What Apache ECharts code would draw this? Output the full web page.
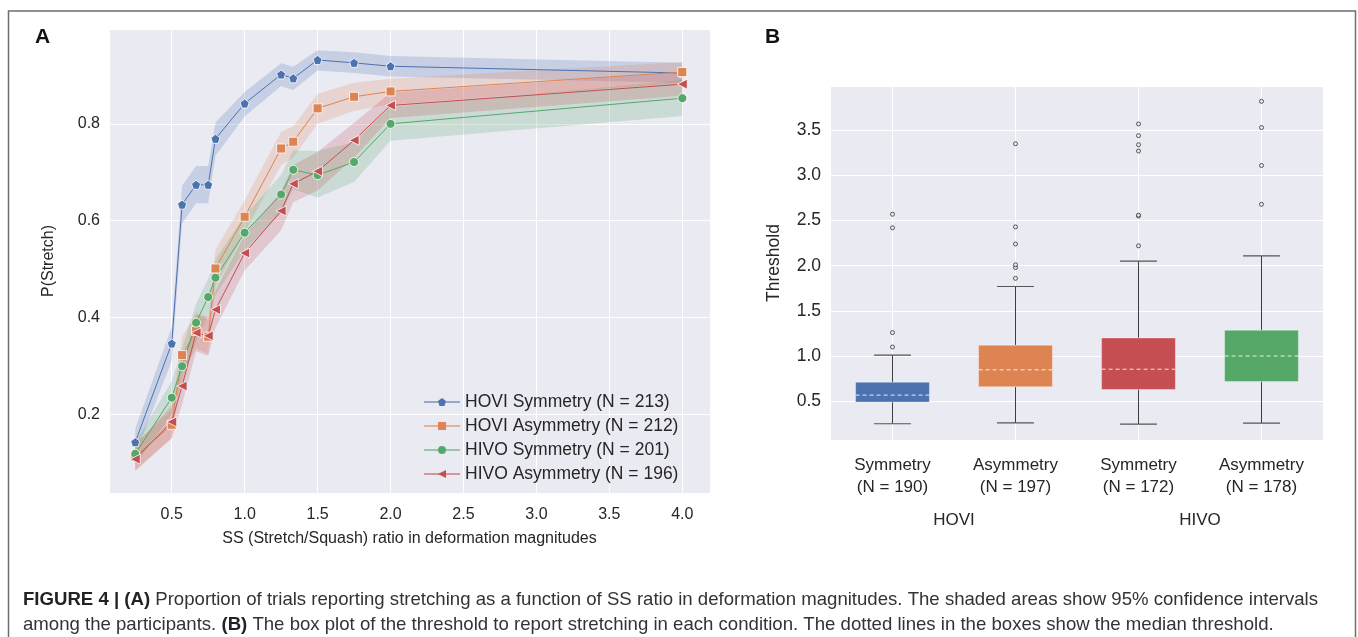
<!DOCTYPE html>
<html>
<head>
<meta charset="utf-8">
<script src="https://cdn.jsdelivr.net/npm/echarts@6/dist/echarts.min.js"></script>
<style>
  html, body { margin: 0; padding: 0; background: #fff; }
  #main { width: 1358px; height: 637px; }
</style>
</head>
<body>
<div id="main"></div>
<script>
// ---- panel A: proportion of "stretch" answers ----
var ssRatio = [0.25, 0.5, 0.571, 0.667, 0.75, 0.8, 1.0, 1.25, 1.333, 1.5, 1.75, 2.0, 4.0];

var hoviSym   = [0.142, 0.346, 0.633, 0.674, 0.674, 0.769, 0.842, 0.902, 0.894, 0.932, 0.926, 0.919, 0.905];
var hoviSymLo = [0.115, 0.310, 0.594, 0.636, 0.636, 0.734, 0.815, 0.878, 0.870, 0.910, 0.905, 0.898, 0.885];
var hoviSymHi = [0.170, 0.380, 0.672, 0.713, 0.713, 0.803, 0.866, 0.925, 0.918, 0.952, 0.948, 0.940, 0.926];

var hoviAsym   = [0.112, 0.178, 0.322, 0.372, 0.360, 0.501, 0.608, 0.749, 0.763, 0.832, 0.856, 0.867, 0.907];
var hoviAsymLo = [0.085, 0.150, 0.285, 0.335, 0.325, 0.465, 0.575, 0.715, 0.730, 0.800, 0.827, 0.840, 0.885];
var hoviAsymHi = [0.140, 0.210, 0.360, 0.410, 0.395, 0.540, 0.642, 0.783, 0.795, 0.862, 0.885, 0.893, 0.928];

var hivoSym   = [0.118, 0.234, 0.299, 0.389, 0.442, 0.482, 0.575, 0.654, 0.705, 0.694, 0.721, 0.800, 0.853];
var hivoSymLo = [0.095, 0.200, 0.265, 0.350, 0.405, 0.445, 0.540, 0.615, 0.665, 0.648, 0.680, 0.765, 0.816];
var hivoSymHi = [0.142, 0.268, 0.335, 0.428, 0.480, 0.520, 0.610, 0.695, 0.745, 0.744, 0.762, 0.835, 0.890];

var hivoAsym   = [0.107, 0.184, 0.258, 0.368, 0.362, 0.416, 0.533, 0.620, 0.676, 0.702, 0.766, 0.838, 0.882];
var hivoAsymLo = [0.082, 0.150, 0.220, 0.330, 0.320, 0.378, 0.497, 0.580, 0.638, 0.662, 0.730, 0.812, 0.858];
var hivoAsymHi = [0.135, 0.218, 0.295, 0.405, 0.402, 0.455, 0.570, 0.660, 0.715, 0.742, 0.802, 0.865, 0.906];

var lineNames = ['HOVI Symmetry (N = 213)', 'HOVI Asymmetry (N = 212)', 'HIVO Symmetry (N = 201)', 'HIVO Asymmetry (N = 196)'];

// ---- panel B: thresholds, [low whisker, q1, median, q3, high whisker] ----
var boxCats = ['Symmetry\n(N = 190)', 'Asymmetry\n(N = 197)', 'Symmetry\n(N = 172)', 'Asymmetry\n(N = 178)'];
var groupCats = ['HOVI', 'HIVO'];
var boxHoviSym  = [0.25, 0.49, 0.567, 0.71, 1.01];
var boxHoviAsym = [0.26, 0.66, 0.847, 1.12, 1.77];
var boxHivoSym  = [0.246, 0.63, 0.854, 1.20, 2.05];
var boxHivoAsym = [0.257, 0.717, 1.00, 1.286, 2.11];
var outHoviSym  = [1.10, 1.26, 2.42, 2.57];
var outHoviAsym = [1.86, 1.98, 2.01, 2.24, 2.43, 3.35];
var outHivoSym  = [2.22, 2.55, 2.56, 3.27, 3.34, 3.44, 3.57];
var outHivoAsym = [2.68, 3.11, 3.53, 3.82];

var blue = '#4C72B0', orange = '#DD8452', green = '#55A868', red = '#C44E52';
var ink = '#262626';
var pentagon = 'path://M0,-1 L0.951,-0.309 L0.588,0.809 L-0.588,0.809 L-0.951,-0.309 Z';
var leftTri = 'path://M-1,0 L0.8,-0.95 L0.8,0.95 Z';

function pairs(ys) {
  return ssRatio.map(function (x, i) { return [x, ys[i]]; });
}

var lines = [
  { name: lineNames[0], v: hoviSym,  lo: hoviSymLo,  hi: hoviSymHi,  color: blue,   symbol: pentagon, size: 9 },
  { name: lineNames[1], v: hoviAsym, lo: hoviAsymLo, hi: hoviAsymHi, color: orange, symbol: 'rect',   size: 9 },
  { name: lineNames[2], v: hivoSym,  lo: hivoSymLo,  hi: hivoSymHi,  color: green,  symbol: 'circle', size: 9 },
  { name: lineNames[3], v: hivoAsym, lo: hivoAsymLo, hi: hivoAsymHi, color: red,    symbol: leftTri,  size: 10 }
];

var series = [];
// 95% CI bands, one polygon per condition, under the lines
lines.forEach(function (l) {
  series.push({
    type: 'custom', xAxisIndex: 0, yAxisIndex: 0, silent: true,
    data: ssRatio.map(function (x, i) { return [x, l.lo[i], l.hi[i]]; }),
    encode: { x: 0, y: [1, 2] },
    renderItem: function (params, api) {
      if (params.dataIndex !== 0) return null;
      var pts = [];
      var i;
      for (i = 0; i < ssRatio.length; i++) pts.push(api.coord([ssRatio[i], l.lo[i]]));
      for (i = ssRatio.length - 1; i >= 0; i--) pts.push(api.coord([ssRatio[i], l.hi[i]]));
      return { type: 'polygon', shape: { points: pts }, style: { fill: l.color, opacity: 0.22 } };
    },
    z: 1
  });
});
lines.forEach(function (l) {
  series.push({
    name: l.name, type: 'line', xAxisIndex: 0, yAxisIndex: 0,
    data: pairs(l.v), symbol: l.symbol, symbolSize: l.size, showAllSymbol: true,
    lineStyle: { color: l.color, width: 1 },
    itemStyle: { color: l.color, borderColor: '#fff', borderWidth: 0.8 },
    z: 3
  });
});

// box plot
var boxes = [boxHoviSym, boxHoviAsym, boxHivoSym, boxHivoAsym];
var boxColors = [blue, orange, red, green];
var outliers = [outHoviSym, outHoviAsym, outHivoSym, outHivoAsym];

series.push({
  type: 'custom', xAxisIndex: 1, yAxisIndex: 1,
  data: boxes.map(function (b, i) { return [i].concat(b); }),
  encode: { x: 0, y: [1, 2, 3, 4, 5] },
  renderItem: function (params, api) {
    var i = api.value(0);
    var pLow = api.coord([i, api.value(1)]);
    var pQ1 = api.coord([i, api.value(2)]);
    var pMed = api.coord([i, api.value(3)]);
    var pQ3 = api.coord([i, api.value(4)]);
    var pHigh = api.coord([i, api.value(5)]);
    var band = api.size([1, 0])[0];
    var bw = band * 0.6, cw = band * 0.3;
    var cx = pLow[0];
    var cs = params.coordSys;
    var wStyle = { stroke: '#3d3d3d', lineWidth: 1 };
    var cStyle = { stroke: '#555', lineWidth: 1.2 };
    return {
      type: 'group',
      children: [
        { type: 'line', shape: { x1: cx, y1: cs.y, x2: cx, y2: cs.y + cs.height }, style: { stroke: '#fff', lineWidth: 1 } },
        { type: 'line', shape: { x1: cx, y1: pLow[1], x2: cx, y2: pQ1[1] }, style: wStyle },
        { type: 'line', shape: { x1: cx, y1: pQ3[1], x2: cx, y2: pHigh[1] }, style: wStyle },
        { type: 'line', shape: { x1: cx - cw / 2, y1: pLow[1], x2: cx + cw / 2, y2: pLow[1] }, style: cStyle },
        { type: 'line', shape: { x1: cx - cw / 2, y1: pHigh[1], x2: cx + cw / 2, y2: pHigh[1] }, style: cStyle },
        { type: 'rect', shape: { x: cx - bw / 2, y: pQ3[1], width: bw, height: pQ1[1] - pQ3[1] },
          style: { fill: boxColors[i], stroke: 'rgba(255,255,255,0.35)', lineWidth: 1 } },
        { type: 'line', shape: { x1: cx - bw / 2, y1: pMed[1], x2: cx + bw / 2, y2: pMed[1] },
          style: { stroke: 'rgba(255,255,255,0.85)', lineWidth: 1, lineDash: [4, 3] } }
      ]
    };
  },
  z: 2
});

var outData = [];
outliers.forEach(function (arr, i) {
  arr.forEach(function (v) { outData.push([i, v]); });
});
series.push({
  type: 'scatter', xAxisIndex: 1, yAxisIndex: 1, data: outData,
  symbol: 'circle', symbolSize: 4,
  itemStyle: { color: '#eaeaf2', borderColor: '#333', borderWidth: 1 },
  z: 4
});

var chart = echarts.init(document.getElementById('main'), null, { renderer: 'canvas' });
var fmt1 = function (v) { return v.toFixed(1); };

chart.setOption({
  backgroundColor: '#fff',
  animation: false,
  textStyle: { fontFamily: 'Liberation Sans, Arial, sans-serif' },
  grid: [
    { left: 109, top: 29, width: 601, height: 464, show: true, backgroundColor: '#EAEAF2', borderWidth: 0 },
    { left: 831, top: 86, width: 492, height: 354, show: true, backgroundColor: '#EAEAF2', borderWidth: 0 }
  ],
  legend: {
    data: lineNames,
    orient: 'vertical', left: 418, top: 388,
    itemWidth: 36, itemHeight: 10, itemGap: 6,
    itemStyle: { borderWidth: 0 },
    lineStyle: { opacity: 0.55 },
    textStyle: { fontSize: 17.5, color: ink }
  },
  xAxis: [
    {
      type: 'value', gridIndex: 0, min: 0.07, max: 4.19, splitNumber: 8,
      name: 'SS (Stretch/Squash) ratio in deformation magnitudes',
      nameLocation: 'middle', nameGap: 38,
      nameTextStyle: { fontSize: 16, color: ink },
      axisLine: { show: false }, axisTick: { show: false },
      axisLabel: { fontSize: 16, color: ink, margin: 14, formatter: fmt1, showMinLabel: false, showMaxLabel: false },
      splitLine: { lineStyle: { color: '#fff', width: 1 } }
    },
    {
      type: 'category', gridIndex: 1, data: boxCats,
      axisLine: { show: false }, axisTick: { show: false },
      axisLabel: { fontSize: 17, color: ink, margin: 14, lineHeight: 22 },
      splitLine: { show: false }
    },
    {
      type: 'category', gridIndex: 1, data: groupCats, position: 'bottom',
      axisLine: { show: false }, axisTick: { show: false },
      axisLabel: { fontSize: 17, color: ink, margin: 72 },
      splitLine: { show: false }
    }
  ],
  yAxis: [
    {
      type: 'value', gridIndex: 0, min: 0.037, max: 0.996, splitNumber: 5,
      name: 'P(Stretch)', nameLocation: 'middle', nameGap: 52, nameRotate: 90,
      nameTextStyle: { fontSize: 16, color: ink },
      axisLine: { show: false }, axisTick: { show: false },
      axisLabel: { fontSize: 16, color: ink, margin: 9, formatter: fmt1, showMinLabel: false, showMaxLabel: false },
      splitLine: { lineStyle: { color: '#fff', width: 1 } }
    },
    {
      type: 'value', gridIndex: 1, min: 0.07, max: 3.99, splitNumber: 8,
      name: 'Threshold', nameLocation: 'middle', nameGap: 48, nameRotate: 90,
      nameTextStyle: { fontSize: 17.5, color: ink },
      axisLine: { show: false }, axisTick: { show: false },
      axisLabel: { fontSize: 17.5, color: ink, margin: 10, formatter: fmt1, showMinLabel: false, showMaxLabel: false },
      splitLine: { lineStyle: { color: '#fff', width: 1 } }
    }
  ],
  graphic: [
    { type: 'rect', shape: { x: 8.5, y: 11, width: 1347, height: 700 }, style: { fill: 'none', stroke: '#6e6e6e', lineWidth: 1.5 }, silent: true },
    { type: 'text', left: 35, top: 27, style: { text: 'A', font: 'bold 21px Liberation Sans, Arial, sans-serif', fill: '#111' } },
    { type: 'text', left: 765, top: 27, style: { text: 'B', font: 'bold 21px Liberation Sans, Arial, sans-serif', fill: '#111' } },
    {
      type: 'text', left: 23, top: 587,
      style: {
        text: '{b|FIGURE 4 | (A)} Proportion of trials reporting stretching as a function of SS ratio in deformation magnitudes. The shaded areas show 95% confidence intervals\namong the participants. {b|(B)} The box plot of the threshold to report stretching in each condition. The dotted lines in the boxes show the median threshold.',
        font: '18.6px Liberation Sans, Arial, sans-serif', fill: '#333', lineHeight: 25,
        rich: { b: { fontWeight: 'bold', fontSize: 18.6, fill: '#222', lineHeight: 25 } }
      }
    }
  ],
  series: series
});
</script>
</body>
</html>
